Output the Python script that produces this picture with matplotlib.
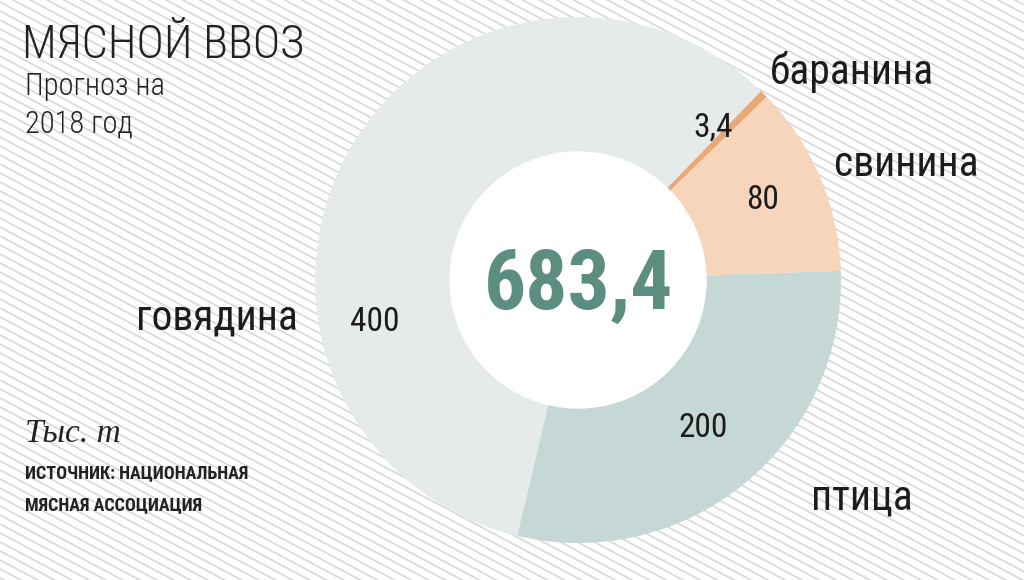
import numpy as np
import matplotlib.pyplot as plt
from matplotlib.patches import Circle
from matplotlib.collections import LineCollection

# data (thousand tonnes), ordered counterclockwise from the right
categories = ["свинина", "баранина", "говядина", "птица"]
values = [80, 3.4, 400, 200]
colors = ["#f7d5bb", "#e9a878", "#e4ebea", "#c6d8d5"]

W, H = 1024, 580
COND = "Roboto Condensed"


def fmt(v):
    return f"{v:g}".replace(".", ",")


def iy(y):
    # image y (from top) -> data y
    return H - y


fig = plt.figure(figsize=(W / 100, H / 100), dpi=100)
fig.patch.set_facecolor("white")
ax = fig.add_axes([0, 0, 1, 1])

# striped background
slope = 0.53
segs = []
for c in np.arange(-700, H + 20, 9.0):
    segs.append([(0, iy(c)), (W, iy(c + slope * W))])
ax.add_collection(LineCollection(segs, colors="#d8d8d8", linewidths=1.2, zorder=0))

# donut
cx, cy, r_out, r_in = 578, iy(280), 263, 128
ax.pie(values, colors=colors, startangle=2, counterclock=True,
       center=(cx, cy), radius=r_out,
       wedgeprops=dict(width=r_out - r_in, linewidth=0, zorder=2))
ax.add_patch(Circle((cx, cy), r_in, color="white", zorder=3))
ax.text(cx + 1, iy(286), fmt(sum(values)), ha="center", va="center",
        fontsize=60, fontweight="bold", family=COND, color="#5b8d80", zorder=4)

# values inside ring
val_pos = [(763, 200), (713, 128), (375, 322), (703, 428)]
for v, (x, y) in zip(values, val_pos):
    ax.text(x, iy(y), fmt(v), ha="center", va="center", fontsize=24,
            family=COND, color="#1c1c1c", zorder=4)

# category labels
lab_pos = [(906, 165), (852, 72), (217, 318), (862, 498)]
for name, (x, y) in zip(categories, lab_pos):
    ax.text(x, iy(y), name, ha="center", va="center", fontsize=30,
            family=COND, color="#1c1c1c", zorder=4)

# headings
ax.text(22, iy(58), "МЯСНОЙ ВВОЗ", ha="left", va="baseline", fontsize=33.5,
        family=COND, fontweight="light", color="#222222")
ax.text(25, iy(95), "Прогноз на", ha="left", va="baseline", fontsize=22,
        family=COND, fontweight="light", color="#222222")
ax.text(25, iy(133), "2018 год", ha="left", va="baseline", fontsize=22,
        family=COND, fontweight="light", color="#222222")
ax.text(25, iy(442), "Тыс. т", ha="left", va="baseline", fontsize=24,
        family="Liberation Serif", style="italic", color="#222222")
ax.text(25, iy(478), "ИСТОЧНИК: НАЦИОНАЛЬНАЯ", ha="left", va="baseline",
        fontsize=13, fontweight="bold", family=COND, color="#222222")
ax.text(25, iy(510), "МЯСНАЯ АССОЦИАЦИЯ", ha="left", va="baseline",
        fontsize=13, fontweight="bold", family=COND, color="#222222")

ax.set_xlim(0, W)
ax.set_ylim(0, H)
ax.set_aspect("equal")
ax.axis("off")

fig.savefig("out.png", dpi=100, facecolor="white")
